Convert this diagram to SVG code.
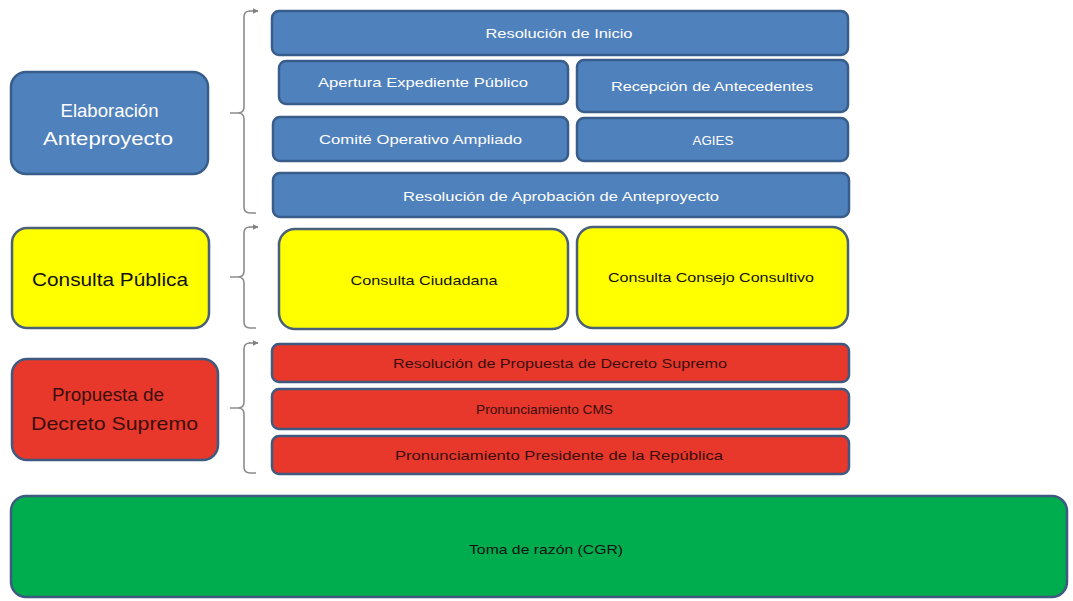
<svg xmlns="http://www.w3.org/2000/svg" width="1073" height="601" viewBox="0 0 1073 601">
<defs>
<marker id="arr" viewBox="0 0 10 10" refX="9" refY="5" markerWidth="6" markerHeight="6" markerUnits="userSpaceOnUse" orient="auto"><path d="M0,0 L10,5 L0,10 z" fill="#808080"/></marker>
<style>
.b{fill:#4F81BD;stroke:#385D8A;stroke-width:2.5}
.y{fill:#FFFF00;stroke:#4A5F78;stroke-width:2.5}
.r{fill:#E8382B;stroke:#3F5A80;stroke-width:2.5}
.g{fill:#00AD4E;stroke:#3F5A80;stroke-width:2.5}
text{font-family:"Liberation Sans",Arial,sans-serif;text-anchor:middle;dominant-baseline:central}
.s{font-size:13px}
.L{font-size:19px}
.tw{fill:#FFFFFF}
.tk{fill:#111111}
.tr{fill:#3A0E0E}
.br{fill:none;stroke:#8C8C8C;stroke-width:1.6}
</style>
</defs>
<rect width="1073" height="601" fill="#FFFFFF"/>
<g id="connectors">
<path class="br" d="M244,17 Q244,11 250,11 M244,17 L244,107 Q244,113 238,113 L230,113 M238,113 Q244,113 244,119 L244,207 Q244,213 250,213 L256,213"/>
<line class="br" x1="249" y1="11" x2="258" y2="11" marker-end="url(#arr)"/>
<path class="br" d="M244,233 Q244,227 250,227 M244,233 L244,271 Q244,277 238,277 L230,277 M238,277 Q244,277 244,283 L244,322 Q244,328 250,328 L256,328"/>
<line class="br" x1="249" y1="227" x2="258" y2="227" marker-end="url(#arr)"/>
<path class="br" d="M244,349 Q244,343 250,343 M244,349 L244,402 Q244,408 238,408 L230,408 M238,408 Q244,408 244,414 L244,467 Q244,473 250,473 L256,473"/>
<line class="br" x1="249" y1="343" x2="258" y2="343" marker-end="url(#arr)"/>
</g>
<g id="elaboracion"><rect class="b" x="11" y="72" width="197" height="102" rx="15"/><text class="L tw" x="109.5" y="110" textLength="98" lengthAdjust="spacingAndGlyphs">Elaboración</text><text class="L tw" x="108" y="138" textLength="130" lengthAdjust="spacingAndGlyphs">Anteproyecto</text></g>
<g id="consulta-publica"><rect class="y" x="12" y="228" width="197" height="100" rx="15"/><text class="L tk" x="110" y="279" textLength="156" lengthAdjust="spacingAndGlyphs">Consulta Pública</text></g>
<g id="propuesta"><rect class="r" x="12" y="359" width="206" height="101" rx="15"/><text class="L tr" x="108" y="394" textLength="112" lengthAdjust="spacingAndGlyphs">Propuesta de</text><text class="L tr" x="114.5" y="423" textLength="167" lengthAdjust="spacingAndGlyphs">Decreto Supremo</text></g>
<g id="resolucion-inicio"><rect class="b" x="272" y="11" width="576" height="44" rx="7"/><text class="s tw" x="559" y="33" textLength="147" lengthAdjust="spacingAndGlyphs">Resolución de Inicio</text></g>
<g id="apertura"><rect class="b" x="279" y="61" width="289" height="43" rx="7"/><text class="s tw" x="423" y="82" textLength="210" lengthAdjust="spacingAndGlyphs">Apertura  Expediente  Público</text></g>
<g id="recepcion"><rect class="b" x="577" y="60" width="271" height="52" rx="7"/><text class="s tw" x="712" y="86" textLength="202" lengthAdjust="spacingAndGlyphs">Recepción  de  Antecedentes</text></g>
<g id="comite"><rect class="b" x="273" y="117" width="295" height="44" rx="7"/><text class="s tw" x="420.5" y="139" textLength="203" lengthAdjust="spacingAndGlyphs">Comité  Operativo  Ampliado</text></g>
<g id="agies"><rect class="b" x="577" y="118" width="271" height="43" rx="7"/><text class="s tw" x="713" y="140" textLength="41" lengthAdjust="spacingAndGlyphs">AGIES</text></g>
<g id="resolucion-aprobacion"><rect class="b" x="273" y="173" width="576" height="44" rx="7"/><text class="s tw" x="561" y="196" textLength="316" lengthAdjust="spacingAndGlyphs">Resolución  de  Aprobación  de  Anteproyecto</text></g>
<g id="consulta-ciudadana"><rect class="y" x="279" y="229" width="289" height="100" rx="16"/><text class="s tk" x="424" y="280" textLength="147" lengthAdjust="spacingAndGlyphs">Consulta  Ciudadana</text></g>
<g id="consulta-consejo"><rect class="y" x="577" y="227" width="271" height="101" rx="16"/><text class="s tk" x="711" y="277" textLength="206" lengthAdjust="spacingAndGlyphs">Consulta  Consejo  Consultivo</text></g>
<g id="resolucion-propuesta"><rect class="r" x="272" y="344" width="577" height="38" rx="7"/><text class="s tr" x="560" y="363" textLength="334" lengthAdjust="spacingAndGlyphs">Resolución  de  Propuesta  de  Decreto  Supremo</text></g>
<g id="pronunciamiento-cms"><rect class="r" x="272" y="389" width="577" height="40" rx="7"/><text class="s tr" x="544.5" y="409" textLength="137" lengthAdjust="spacingAndGlyphs">Pronunciamiento  CMS</text></g>
<g id="pronunciamiento-presidente"><rect class="r" x="272" y="436" width="577" height="38" rx="7"/><text class="s tr" x="559" y="455" textLength="328" lengthAdjust="spacingAndGlyphs">Pronunciamiento  Presidente  de  la  República</text></g>
<g id="toma-razon"><rect class="g" x="11" y="496" width="1056" height="101" rx="15"/><text class="s tk" x="546" y="549" textLength="154" lengthAdjust="spacingAndGlyphs">Toma de razón (CGR)</text></g>
</svg>
